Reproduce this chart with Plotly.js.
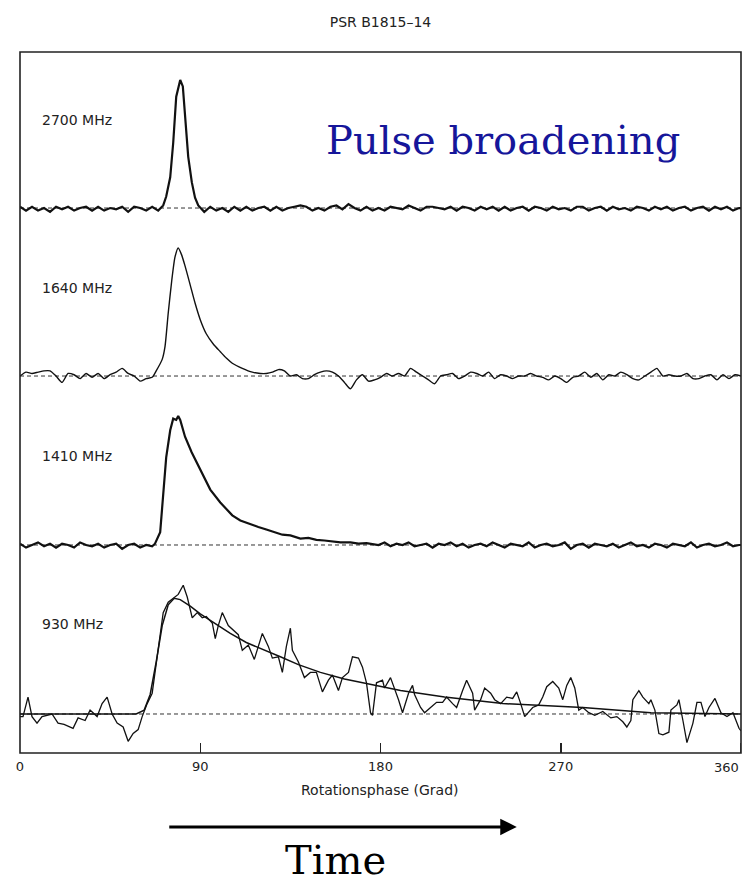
<!DOCTYPE html>
<html>
<head>
<meta charset="utf-8">
<script src="https://cdn.plot.ly/plotly-3.0.1.min.js"></script>
<style>html,body{margin:0;padding:0;background:#fff;}#chart{width:743px;height:882px;}</style>
</head>
<body>
<div id="chart"></div>
<script>
// ---------- DATA ----------
const chartTitle = 'PSR B1815\u201314';
const xAxisTitle = 'Rotationsphase (Grad)';
const tickValues = [0, 90, 180, 270];
const tickLabels = ['0', '90', '180', '270'];
const lastTickValue = 360;
const lastTickLabel = '360';
const panelLabels = ['2700 MHz', '1640 MHz', '1410 MHz', '930 MHz'];

// 2700 MHz profile (phase in degrees, normalised intensity)
const phase2700 = [0,3,6,9,12,15,18,21,24,27,30,33,36,39,42,45,48,51,54,57,60,63,66,69,
  71.5,73,75,76.5,78,80,81.3,82.4,84,85.8,87.4,89,
  92,95,98,101,104,107,110,113,116,119,122,125,128,131,134,137,140,143,146,149,152,155,158,161,
  164,167,170,173,176,179,182,185,188,191,194,197,200,203,206,209,212,215,218,221,224,227,230,233,
  236,239,242,245,248,251,254,257,260,263,266,269,272,275,278,281,284,287,290,293,296,299,302,305,
  308,311,314,317,320,323,326,329,332,335,338,341,344,347,350,353,356,359,360];
const flux2700 = [0.01,-0.02,0.01,-0.02,0.0,-0.03,0.01,-0.01,0.01,-0.02,0.0,0.01,-0.02,0.01,-0.02,0.0,-0.01,0.01,-0.03,0.01,0.0,-0.02,0.01,-0.02,
  0.02,0.09,0.24,0.51,0.87,1.0,0.95,0.71,0.40,0.20,0.08,0.02,
  -0.03,0.01,-0.02,0.0,-0.03,0.01,-0.02,0.01,-0.02,0.0,
  0.01,-0.02,0.01,-0.02,0.0,0.01,0.02,0.01,-0.02,0.0,
  -0.02,0.01,0.02,-0.01,0.03,0.0,-0.02,0.01,-0.02,0.0,
  -0.02,0.01,0.0,-0.01,0.02,0.0,-0.02,0.01,0.01,0.0,
  -0.01,0.01,-0.02,0.01,0.0,-0.02,0.01,-0.01,0.01,-0.02,
  0.01,-0.02,0.0,0.01,-0.02,0.01,0.0,-0.02,0.01,-0.01,
  0.0,-0.02,0.01,0.01,-0.02,0.0,0.01,-0.02,0.01,-0.01,
  0.0,-0.02,0.01,0.0,-0.02,0.01,-0.01,0.01,-0.02,0.0,
  0.01,-0.02,0.0,0.01,-0.02,0.01,-0.01,0.01,-0.02,0.0,
  0.0];

// 1640 MHz profile
const phase1640 = [0,3,6,9,12,15,18,21,24,27,30,33,36,39,42,45,48,51,54,57,60,63,
  66,68,71,72.4,74,75.8,77.4,79,80.6,82.4,85,87.4,90,93,96.5,100,103,106,111,116,120,123,
  126,129,132,135,138,141,144,147,150,153,156,159,162,165,168,171,174,177,180,183,
  186,189,192,195,198,201,204,207,210,213,216,219,222,225,228,231,234,237,240,243,
  246,249,252,255,258,261,264,267,270,273,276,279,282,285,288,291,294,297,300,303,
  306,309,312,315,318,321,324,327,330,333,336,339,342,345,348,351,354,357,360];
const flux1640 = [0.0,0.03,0.02,0.03,0.04,0.04,0.0,-0.05,0.02,0.01,-0.02,0.02,-0.01,0.02,-0.02,0.01,0.03,0.06,0.02,0.0,-0.04,-0.02,
  -0.01,0.04,0.13,0.23,0.49,0.75,0.93,1.0,0.95,0.86,0.71,0.57,0.44,0.33,0.25,0.19,0.14,0.10,0.06,0.03,0.02,0.02,
  0.03,0.05,0.04,0.0,0.01,-0.02,-0.02,0.01,0.03,0.04,
  0.03,0.0,-0.05,-0.10,-0.03,0.01,-0.04,-0.03,-0.01,0.02,
  0.0,0.02,0.0,0.06,0.03,0.0,-0.03,-0.06,0.0,0.01,
  0.02,-0.02,0.0,0.03,0.02,0.0,0.03,-0.02,0.01,0.0,
  -0.02,0.0,0.0,0.02,0.0,-0.01,-0.03,0.0,-0.02,-0.05,
  -0.01,0.0,0.03,-0.01,0.02,-0.03,0.01,0.0,0.03,0.01,
  -0.02,-0.03,0.0,0.03,0.06,0.0,0.01,0.0,0.0,0.02,
  -0.02,-0.02,0.0,0.01,-0.03,0.01,-0.02,0.01,0.0];

// 1410 MHz profile
const phase1410 = [0,3,6,9,12,15,18,21,24,27,30,33,36,39,42,45,48,51,54,57,60,63,66,
  67.4,70,71.5,73,75,76.5,78,79,80,82.4,85.7,90,95,100,106,110,115,119,123,127,131,135,140,144,148,152,156,160,165,169,173,
  176,179,182,185,188,191,194,197,200,203,206,209,212,215,218,221,224,227,230,233,
  236,239,242,245,248,251,254,257,260,263,266,269,272,275,278,281,284,287,290,293,
  296,299,302,305,308,311,314,317,320,323,326,329,332,335,338,341,344,347,350,353,356,359,360];
const flux1410 = [0.01,-0.02,0.0,0.02,-0.01,0.01,-0.02,0.01,0.0,-0.02,0.02,0.0,-0.01,0.01,-0.02,0.0,0.01,-0.03,0.0,0.01,-0.02,0.0,-0.01,
  0.01,0.1,0.37,0.68,0.89,0.98,0.97,1.0,0.97,0.84,0.72,0.58,0.43,0.33,0.23,0.19,0.16,0.14,0.12,0.10,0.08,0.075,0.05,0.055,0.04,0.035,0.03,0.02,0.02,0.01,0.015,
  0.01,0.0,0.02,-0.01,0.01,0.0,0.02,-0.01,0.0,0.01,
  -0.02,0.01,0.0,0.02,-0.01,0.01,-0.02,0.0,0.01,-0.01,
  0.02,0.0,-0.02,0.01,0.0,-0.01,0.02,-0.02,0.0,0.01,
  -0.01,0.0,0.02,-0.03,0.0,0.01,-0.02,0.01,0.0,-0.01,
  0.01,-0.02,0.0,0.02,-0.01,0.0,-0.02,0.01,0.0,-0.02,
  0.01,0.0,-0.01,0.02,-0.02,0.0,0.01,-0.01,0.0,0.02,
  -0.01,0.0,0.0];

// 930 MHz profile (noisy)
const phase930 = [0,1.5,4,6,8.5,11,16,19,22,26.5,
  29,32.5,35,38.5,41,43.5,46,48.5,51.5,54,
  56.5,59,61,63.5,66,67.5,69,71.5,74,76.5,
  79,81.5,83.5,86,88.5,91,93,96,97.5,99,
  101,104,106,109,111,114,117,119,121,124,
  126,129,131,133,135,136,139,142,145,148,
  151,154,156,159,161,164,166,169,171,173,
  175,176,178,181,182,185,186,189,191,194,
  196,197,200,202,205,208,211,213,216,218,
  221,223,226,227,230,232,235,237,240,243,
  246,248,250,252,256,259,261,263,266,269,
  271,273,275,277,279,281,284,287,291,295,
  298,301,303,305,306,309,311,314,315,317,
  319,321,324,325,328,329,331,333,336,338,
  340,342,344,347,350,353,356,358,359,360];
const flux930 = [-0.02,-0.02,0.13,-0.02,-0.07,-0.02,0.0,-0.07,-0.08,-0.11,
  -0.03,-0.05,0.03,-0.02,0.08,0.13,0.0,-0.07,-0.1,-0.21,
  -0.15,-0.12,-0.02,0.08,0.16,0.34,0.52,0.78,0.86,0.89,
  0.92,0.99,0.90,0.74,0.78,0.74,0.75,0.70,0.58,0.68,
  0.78,0.68,0.65,0.61,0.49,0.53,0.42,0.52,0.62,0.52,
  0.43,0.44,0.32,0.52,0.66,0.49,0.40,0.28,0.32,0.32,
  0.17,0.26,0.30,0.18,0.28,0.32,0.44,0.43,0.36,0.24,
  0.01,-0.01,0.24,0.26,0.20,0.28,0.24,0.11,0.01,0.16,
  0.22,0.15,0.05,0.01,0.05,0.09,0.09,0.13,0.08,0.05,
  0.18,0.26,0.16,0.03,0.11,0.20,0.16,0.11,0.08,0.13,
  0.12,0.17,0.08,-0.02,0.05,0.07,0.13,0.21,0.25,0.20,
  0.11,0.22,0.28,0.20,0.03,0.05,0.01,-0.01,0.02,-0.03,
  -0.02,-0.06,-0.10,-0.05,0.11,0.18,0.13,0.08,0.11,0.03,
  -0.15,-0.16,-0.14,0.03,0.07,0.11,-0.05,-0.22,-0.07,0.09,
  0.09,-0.02,0.05,0.12,0.01,-0.02,0.01,-0.07,-0.11,-0.13];

// 930 MHz scattering fit (smooth curve)
const phaseFit930 = [0,58,62,65,68,71,74,77,80,85,90,97,105,113,121,130,139,150,162,174,190,212,241,281,315,360];
const fluxFit930  = [0,0,0.03,0.15,0.4,0.68,0.84,0.89,0.88,0.83,0.77,0.70,0.62,0.55,0.50,0.44,0.38,0.32,0.27,0.23,0.18,0.13,0.08,0.05,0.01,0.0];

const annotationText = 'Pulse broadening';
const arrowText = 'Time';

// ---------- CHART ----------
const axisFont = 'DejaVu Sans, Liberation Sans, Arial, sans-serif';
const serifFont = 'DejaVu Serif, Liberation Serif, serif';

const traces = [
  {x: phase2700, y: flux2700, xaxis: 'x', yaxis: 'y',  mode: 'lines', line: {color: '#111', width: 2.2}},
  {x: phase1640, y: flux1640, xaxis: 'x', yaxis: 'y2', mode: 'lines', line: {color: '#111', width: 1.4, shape: 'spline', smoothing: 0.6}},
  {x: phase1410, y: flux1410, xaxis: 'x', yaxis: 'y3', mode: 'lines', line: {color: '#111', width: 2.2}},
  {x: phase930,  y: flux930,  xaxis: 'x', yaxis: 'y4', mode: 'lines', line: {color: '#111', width: 1.3}},
  {x: phaseFit930, y: fluxFit930, xaxis: 'x', yaxis: 'y4', mode: 'lines', line: {color: '#111', width: 1.5}}
];

const yBase = {visible: false, showgrid: false, zeroline: false, anchor: 'x', fixedrange: true};
const yRefs = ['y', 'y2', 'y3', 'y4'];

const shapes = yRefs.map(function (yr) {
  return {type: 'line', xref: 'x', yref: yr, x0: 0, x1: 360, y0: 0, y1: 0,
          line: {color: '#333', width: 1, dash: '4px,3px'}, layer: 'below'};
});
shapes.push({type: 'rect', xref: 'paper', yref: 'paper', x0: 0, x1: 1, y0: 0, y1: 1,
             line: {color: '#222', width: 1.6}});
// inside tick mark at the right end of the axis
shapes.push({type: 'line', xref: 'x', yref: 'paper', x0: lastTickValue, x1: lastTickValue, y0: 0, y1: 0.0143,
             line: {color: '#222', width: 1.5}});

const annotations = panelLabels.map(function (t, i) {
  return {text: t, xref: 'x', yref: yRefs[i], x: 10, y: 0.69, xanchor: 'left', yanchor: 'middle',
          showarrow: false, font: {family: axisFont, size: 14, color: '#222'}};
});
annotations.push({text: lastTickLabel, xref: 'x', yref: 'paper', x: lastTickValue, y: -0.0200,
                  xanchor: 'right', yanchor: 'middle', showarrow: false,
                  font: {family: axisFont, size: 13, color: '#222'}});
annotations.push({text: annotationText, xref: 'paper', yref: 'paper', x: 0.670, y: 0.874,
                  xanchor: 'center', yanchor: 'middle', showarrow: false,
                  font: {family: serifFont, size: 40, color: '#16169a'}});
annotations.push({text: xAxisTitle, xref: 'paper', yref: 'paper', x: 0.4993, y: -0.0528,
                  xanchor: 'center', yanchor: 'middle', showarrow: false,
                  font: {family: axisFont, size: 14, color: '#222'}});
annotations.push({text: '', xref: 'paper', yref: 'paper', x: 0.689, y: -0.1055,
                  showarrow: true, axref: 'pixel', ayref: 'pixel', ax: -349, ay: 0,
                  arrowhead: 2, arrowsize: 1.1, arrowwidth: 3, arrowcolor: '#000', standoff: 0});
annotations.push({text: arrowText, xref: 'paper', yref: 'paper', x: 0.4369, y: -0.153,
                  xanchor: 'center', yanchor: 'middle', showarrow: false,
                  font: {family: serifFont, size: 40, color: '#000'}});

const layout = {
  width: 743, height: 882,
  margin: {l: 20, r: 2, t: 52, b: 129, pad: 0},
  paper_bgcolor: '#fff', plot_bgcolor: '#fff',
  showlegend: false,
  title: {text: chartTitle, xref: 'paper', x: 0.5, xanchor: 'center', y: 0.975, yanchor: 'middle',
          font: {family: axisFont, size: 14, color: '#222'}},
  xaxis: {domain: [0, 1], range: [0, 360], anchor: 'y4', showgrid: false, zeroline: false, showline: false,
          tickmode: 'array', tickvals: tickValues, ticktext: tickLabels,
          ticks: 'inside', ticklen: 10, tickwidth: 1.5, tickcolor: '#222', ticklabelstandoff: 4,
          tickfont: {family: axisFont, size: 13, color: '#222'}, fixedrange: true},
  yaxis:  Object.assign({}, yBase, {domain: [0.7504, 1], range: [-0.148, 1.219]}),
  yaxis2: Object.assign({}, yBase, {domain: [0.5007, 0.7504], range: [-0.203, 1.164]}),
  yaxis3: Object.assign({}, yBase, {domain: [0.2511, 0.5007], range: [-0.248, 1.109]}),
  yaxis4: Object.assign({}, yBase, {domain: [0, 0.2511], range: [-0.300, 1.054]}),
  shapes: shapes,
  annotations: annotations
};

Plotly.newPlot('chart', traces, layout, {displayModeBar: false, staticPlot: true});
</script>
</body>
</html>
